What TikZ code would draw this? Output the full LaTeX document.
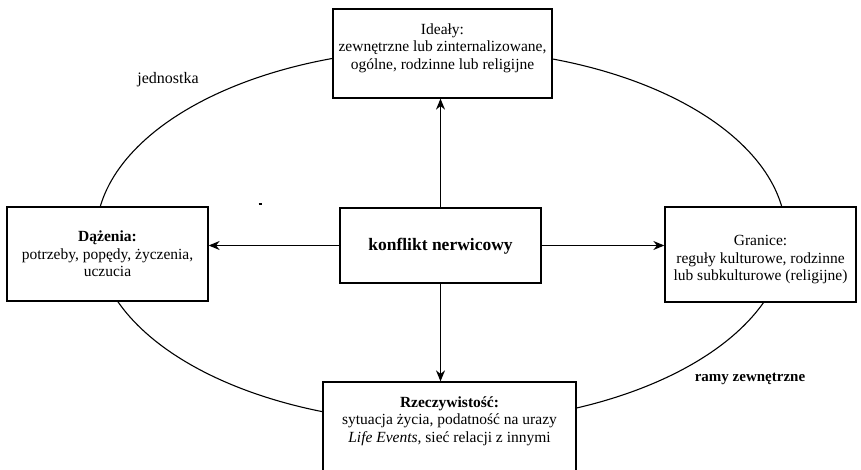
\documentclass[tikz,border=0pt]{standalone}
\usepackage{fontspec}
\setmainfont{Liberation Serif}
\usetikzlibrary{arrows.meta}
\begin{document}
\begin{tikzpicture}[x=1pt,y=-1pt,
  box/.style={draw, line width=1.3pt, fill=white, inner sep=0pt, rectangle},
  lbl/.style={align=center, inner sep=0pt, font=\fontsize{15.5}{17.5}\selectfont},
  arr/.style={-{Stealth[length=11pt,width=9pt]}, line width=1.2pt}]
\useasboundingbox (0,0) rectangle (861,470);
\draw[line width=1.1pt] (441,236) ellipse [x radius=345, y radius=187];
% boxes
\node[box, minimum width=219pt, minimum height=89pt] (ideal) at (442.5,53.5) {};
\node[box, minimum width=201pt, minimum height=94pt] (dazenia) at (107.5,254) {};
\node[box, minimum width=191pt, minimum height=95pt] (granice) at (760.5,254.5) {};
\node[box, minimum width=253pt, minimum height=98pt] (rzecz) at (449.5,431) {};
\node[box, line width=2pt, minimum width=201pt, minimum height=75pt] (konflikt) at (440.5,245.5) {};
% texts
\node[lbl] (idealtxt) at (442.5,48) {Ideały:\\zewnętrzne lub zinternalizowane,\\ogólne, rodzinne lub religijne};
\node[lbl] (dazeniatxt) at (107.5,254) {\textbf{Dążenia:}\\potrzeby, popędy, życzenia,\\uczucia};
\node[lbl] (granicetxt) at (760.5,260) {Granice:\\reguły kulturowe, rodzinne\\lub subkulturowe (religijne)};
\node[lbl] (rzecztxt) at (449.5,421) {\textbf{Rzeczywistość:}\\sytuacja życia, podatność na urazy\\\textit{Life Events}, sieć relacji z innymi};
\node[lbl, font=\fontsize{17.5}{20}\selectfont\bfseries] (konflikttxt) at (440.5,246) {konflikt nerwicowy};
\node[lbl, font=\fontsize{16}{18}\selectfont] (jednostka) at (168,80) {jednostka};
\node[lbl, font=\fontsize{15}{17}\selectfont\bfseries] (ramy) at (750,379) {ramy zewnętrzne};
% arrows
\draw[arr] (konflikt.north) -- (konflikt.north |- ideal.south);
\draw[arr] (konflikt.south) -- (konflikt.south |- rzecz.north);
\draw[arr] (konflikt.west) -- (konflikt.west -| dazenia.east);
\draw[arr] (konflikt.east) -- (konflikt.east -| granice.west);
% stray marks
\draw[line width=2.5pt] (448,9) -- (478,9);
\draw[line width=1.2pt] (258.5,204) -- (262,204);
\end{tikzpicture}
\end{document}
